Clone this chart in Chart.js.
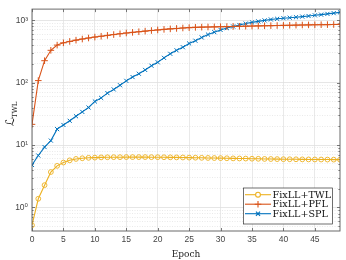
<!DOCTYPE html>
<html>
<head>
<meta charset="utf-8">
<script src="https://cdn.jsdelivr.net/npm/chart.js@4"></script>
<style>
  html, body { margin: 0; padding: 0; background: #fff; }
  #lossChart { display: block; }
</style>
</head>
<body>
<canvas id="lossChart" width="346" height="260"></canvas>
<script>
// epochs 0..49
const epochs = [0, 1, 2, 3, 4, 5, 6, 7, 8, 9, 10, 11, 12, 13, 14, 15, 16, 17, 18, 19,
  20, 21, 22, 23, 24, 25, 26, 27, 28, 29, 30, 31, 32, 33, 34, 35, 36, 37, 38, 39,
  40, 41, 42, 43, 44, 45, 46, 47, 48, 49];

const twl = [0.52, 1.38, 2.28, 3.7, 4.65, 5.25, 5.7, 6.0, 6.15, 6.25,
  6.3, 6.35, 6.38, 6.4, 6.4, 6.42, 6.42, 6.42, 6.42, 6.4,
  6.4, 6.38, 6.36, 6.35, 6.33, 6.3, 6.28, 6.25, 6.22, 6.2,
  6.18, 6.15, 6.12, 6.1, 6.08, 6.05, 6.03, 6.0, 5.98, 5.96,
  5.94, 5.93, 5.92, 5.9, 5.89, 5.88, 5.87, 5.86, 5.85, 5.84];

const pfl = [21.5, 108, 225, 330, 400, 435, 458, 480, 500, 520,
  538, 555, 572, 590, 607, 625, 640, 655, 670, 685,
  700, 715, 728, 740, 752, 762, 770, 776, 780, 784,
  788, 792, 796, 800, 804, 808, 812, 816, 820, 824,
  828, 832, 836, 840, 843, 846, 849, 852, 855, 858];

const spl = [4.8, 6.8, 9.3, 11.8, 18, 21, 24.5, 29, 34, 40,
  50, 57, 68, 78, 91, 107, 123, 139, 160, 187,
  212, 250, 290, 330, 370, 425, 470, 530, 590, 645,
  700, 750, 795, 840, 885, 925, 960, 995, 1030, 1055,
  1080, 1100, 1120, 1145, 1170, 1200, 1230, 1265, 1300, 1340];

const seriesNames = ['FixLL+TWL', 'FixLL+PFL', 'FixLL+SPL'];
const xTicks = [0, 5, 10, 15, 20, 25, 30, 35, 40, 45];
const yDecades = [-1, 0, 1, 2, 3];
const yMin = 0.42, yMax = 1510;
const sup = { '-1': '⁻¹', '0': '⁰', '1': '¹', '2': '²', '3': '³' };

const blue = '#0072BD', orange = '#D95319', yellow = '#EDB120';
const axisColor = '#5a5a5a';

function pts(arr) {
  return epochs.map((e, i) => ({ x: e, y: arr[i] }));
}

// box, inward ticks and the legend drawn on top, like the matlab figure
const frame = {
  id: 'frame',
  beforeDatasetsDraw(chart) {
    const { ctx, chartArea: a, scales } = chart;
    ctx.save();
    ctx.strokeStyle = axisColor;
    ctx.lineWidth = 0.8;
    ctx.beginPath();
    xTicks.forEach(t => {
      const px = Math.round(scales.x.getPixelForValue(t)) + 0.5;
      ctx.moveTo(px, a.bottom); ctx.lineTo(px, a.bottom - 3);
      ctx.moveTo(px, a.top); ctx.lineTo(px, a.top + 3);
    });
    scales.y.ticks.forEach(t => {
      const py = Math.round(scales.y.getPixelForValue(t.value)) + 0.5;
      const len = t.major ? 3 : 1.6;
      ctx.moveTo(a.left, py); ctx.lineTo(a.left + len, py);
      ctx.moveTo(a.right, py); ctx.lineTo(a.right - len, py);
    });
    ctx.stroke();
    ctx.restore();
  },
  afterDraw(chart) {
    const { ctx, chartArea: a } = chart;
    ctx.save();
    ctx.strokeStyle = axisColor;
    ctx.lineWidth = 0.9;
    ctx.strokeRect(a.left, a.top, a.right - a.left, a.bottom - a.top);

    // y label: script L with TWL subscript
    ctx.translate(14, 118);
    ctx.rotate(-Math.PI / 2);
    ctx.fillStyle = '#222';
    ctx.textBaseline = 'alphabetic';
    ctx.textAlign = 'left';
    ctx.font = 'italic 12px "DejaVu Serif", "DejaVu Sans"';
    ctx.fillText('ℒ', -8, 0);
    ctx.font = '7px "DejaVu Serif"';
    ctx.fillText('TWL', 0, 2.5);
    ctx.restore();

    // legend
    const lx = 243.5, ly = 188, lw = 89, lh = 36;
    ctx.save();
    ctx.fillStyle = '#fff';
    ctx.fillRect(lx, ly, lw, lh);
    ctx.strokeStyle = '#333';
    ctx.lineWidth = 0.7;
    ctx.strokeRect(lx, ly, lw, lh);
    chart.data.datasets.forEach((ds, i) => {
      const cy = 194.7 + i * 9.5;
      ctx.strokeStyle = ds.borderColor;
      ctx.lineWidth = 1.1;
      ctx.beginPath();
      ctx.moveTo(245, cy); ctx.lineTo(271, cy);
      ctx.stroke();
      Chart.helpers.drawPoint(ctx, {
        pointStyle: ds.pointStyle, radius: ds.pointRadius, rotation: 0,
        borderWidth: 1
      }, 258, cy);
      ctx.fillStyle = '#111';
      ctx.font = '9.6px "DejaVu Serif"';
      ctx.textBaseline = 'middle';
      ctx.textAlign = 'left';
      ctx.fillText(ds.label, 272.5, cy + 0.5);
    });
    ctx.restore();
  }
};

const chrt = new Chart(document.getElementById('lossChart'), {
  type: 'line',
  data: {
    datasets: [{
      label: seriesNames[0],
      data: pts(twl),
      borderColor: yellow,
      pointBorderColor: yellow,
      pointBackgroundColor: 'rgba(255,255,255,0)',
      pointStyle: 'circle',
      pointRadius: 2.4,
      pointBorderWidth: 0.9,
      borderWidth: 1.1
    }, {
      label: seriesNames[1],
      data: pts(pfl),
      borderColor: orange,
      pointBorderColor: orange,
      pointStyle: 'cross',
      pointRadius: 3.3,
      pointBorderWidth: 1,
      borderWidth: 1.1
    }, {
      label: seriesNames[2],
      data: pts(spl),
      borderColor: blue,
      pointBorderColor: blue,
      pointStyle: 'crossRot',
      pointRadius: 2.9,
      pointBorderWidth: 1,
      borderWidth: 1.1
    }]
  },
  options: {
    responsive: false,
    animation: false,
    layout: { padding: { top: 4, right: 6, left: 0, bottom: 0 } },
    plugins: {
      legend: { display: false },
      tooltip: { enabled: false }
    },
    scales: {
      x: {
        type: 'linear',
        min: 0,
        max: 49,
        afterBuildTicks: s => { s.ticks = xTicks.map(v => ({ value: v })); },
        afterFit: s => { s.height = 29; },
        grid: { color: '#e3e3e3', lineWidth: 0.8, drawTicks: false },
        border: { display: false },
        ticks: {
          autoSkip: false,
          maxRotation: 0,
          padding: 4,
          color: '#444',
          font: { family: '"Liberation Sans", Arial', size: 8.5 }
        },
        title: {
          display: true,
          text: 'Epoch',
          color: '#222',
          padding: { top: 0, bottom: 0 },
          font: { family: '"DejaVu Serif"', size: 9 }
        }
      },
      y: {
        type: 'logarithmic',
        min: yMin,
        max: yMax,
        afterBuildTicks: s => {
          const t = [];
          yDecades.forEach(d => {
            for (let m = 1; m <= 9; m++) {
              const v = m * Math.pow(10, d);
              if (v >= yMin && v <= yMax) t.push({ value: v, major: m === 1 });
            }
          });
          s.ticks = t;
        },
        afterFit: s => { s.width = 32; },
        grid: {
          color: c => (c.tick && c.tick.major) ? '#e0e0e0' : '#dcdcdc',
          lineWidth: c => (c.tick && c.tick.major) ? 0.8 : 0.6,
          drawTicks: false
        },
        border: {
          display: false,
          dash: c => (c.tick && !c.tick.major) ? [1, 1.5] : []
        },
        ticks: {
          autoSkip: false,
          padding: 4,
          color: '#444',
          font: { family: '"Liberation Sans", "DejaVu Sans"', size: 8.5 },
          callback: v => {
            const e = Math.round(Math.log10(v));
            return Math.abs(v - Math.pow(10, e)) < 1e-9 * Math.pow(10, e) ? '10' + sup[e] : '';
          }
        }
      }
    }
  },
  plugins: [frame]
});
</script>
</body>
</html>
